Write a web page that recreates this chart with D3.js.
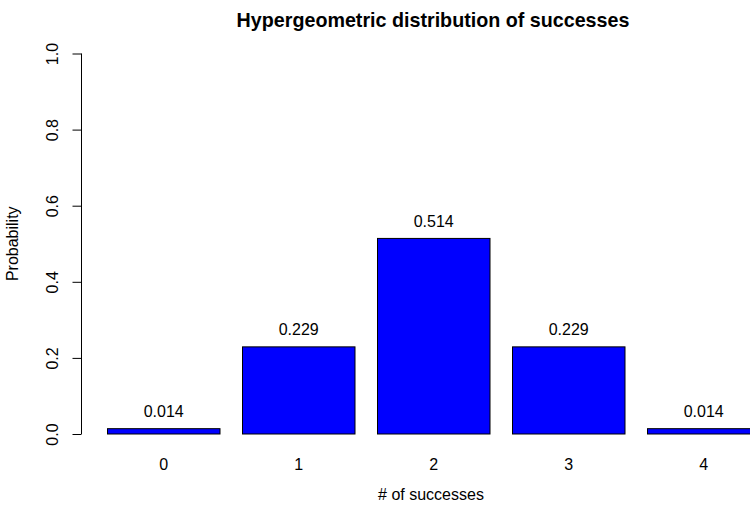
<!DOCTYPE html>
<html>
<head>
<meta charset="utf-8">
<script src="https://cdn.jsdelivr.net/npm/d3@7"></script>
<style>
  body { margin: 0; background: #fff; }
  svg { display: block; font-family: "Liberation Sans", Arial, sans-serif; }
</style>
</head>
<body>
<svg width="750" height="510"></svg>
<script>
"use strict";

// number of successes (bar names) and their probabilities
const successes = ["0", "1", "2", "3", "4"];
const probabilities = [0.014, 0.229, 0.514, 0.229, 0.014];
const probLabels = ["0.014", "0.229", "0.514", "0.229", "0.014"];
const yTicks = [0, 0.2, 0.4, 0.6, 0.8, 1.0];

const data = successes.map((s, i) => ({
  name: s,
  p: probabilities[i],
  label: probLabels[i],
}));

const svg = d3.select("svg");

// barplot with space = 0.2 -> gap is 1/6 of each step
const x = d3
  .scaleBand()
  .domain(successes)
  .range([96.25, 771.25])
  .paddingInner(1 / 6)
  .paddingOuter(1 / 12);

const y = d3.scaleLinear().domain([0, 1]).range([434, 53.5]);

// bars
svg
  .selectAll("rect.bar")
  .data(data)
  .enter()
  .append("rect")
  .attr("class", "bar")
  .attr("x", (d) => x(d.name))
  .attr("y", (d) => y(d.p))
  .attr("width", x.bandwidth())
  .attr("height", (d) => y(0) - y(d.p))
  .style("fill", "#0000ff")
  .style("stroke", "#000")
  .style("stroke-width", "1px");

// value labels above bars
svg
  .selectAll("text.val")
  .data(data)
  .enter()
  .append("text")
  .attr("class", "val")
  .attr("x", (d) => x(d.name) + x.bandwidth() / 2)
  .attr("y", (d) => y(d.p) - 11.5)
  .attr("text-anchor", "middle")
  .style("font-size", "16px")
  .text((d) => d.label);

// bar names under bars (no x axis line, like R barplot)
svg
  .selectAll("text.name")
  .data(data)
  .enter()
  .append("text")
  .attr("class", "name")
  .attr("x", (d) => x(d.name) + x.bandwidth() / 2)
  .attr("y", 469.5)
  .attr("text-anchor", "middle")
  .style("font-size", "16px")
  .text((d) => d.name);

// y axis, R style: labels parallel to the axis
const yAxis = svg
  .append("g")
  .attr("transform", "translate(81,0)")
  .call(d3.axisLeft(y).tickValues(yTicks).tickSize(9).tickSizeOuter(0).tickFormat(d3.format(".1f")));

yAxis.select(".domain").attr("stroke", "#000").attr("d", `M0.5,${y(0)}V${y(1)}`);
yAxis.selectAll(".tick line").attr("stroke", "#000").attr("transform", "translate(0.5,0)");
yAxis
  .selectAll(".tick text")
  .attr("x", null)
  .attr("dy", null)
  .attr("text-anchor", "middle")
  .attr("transform", "translate(-23,0) rotate(-90)")
  .style("font-size", "16px")
  .style("font-family", "'Liberation Sans', Arial, sans-serif")
  .attr("fill", "#000");

// axis titles and main title
svg
  .append("text")
  .attr("transform", `translate(17.5,${(y(0) + y(1)) / 2}) rotate(-90)`)
  .attr("text-anchor", "middle")
  .style("font-size", "16px")
  .text("Probability");

svg
  .append("text")
  .attr("x", 431)
  .attr("y", 500)
  .attr("text-anchor", "middle")
  .style("font-size", "16px")
  .text("# of successes");

svg
  .append("text")
  .attr("x", 433)
  .attr("y", 27)
  .attr("text-anchor", "middle")
  .style("font-size", "19.7px")
  .style("font-weight", "bold")
  .text("Hypergeometric distribution of successes");
</script>
</body>
</html>
